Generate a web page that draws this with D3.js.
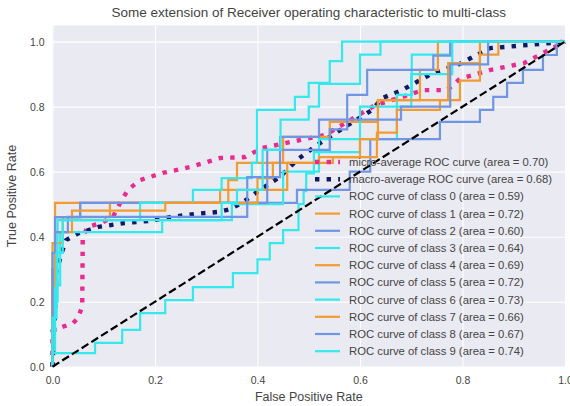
<!DOCTYPE html>
<html>
<head>
<meta charset="utf-8">
<script src="https://cdn.jsdelivr.net/npm/d3@7"></script>
<style>
    body { margin: 0; background: #fff; }
    text { font-family: "Liberation Sans", Arial, sans-serif; fill: #333; }
</style>
</head>
<body>
<div id="chart"></div>
<script>
// ROC points, [false positive rate, true positive rate]
const microRoc = [[0,0],[0,0.11],[0.015,0.12],[0.04,0.134],[0.05,0.15],[0.058,0.186],[0.059,0.40],[0.069,0.43],
    [0.095,0.442],[0.118,0.461],[0.132,0.504],[0.147,0.544],[0.171,0.574],[0.215,0.596],[0.268,0.614],
    [0.327,0.642],[0.376,0.645],[0.409,0.673],[0.464,0.691],[0.532,0.713],[0.575,0.753],[0.63,0.805],
    [0.675,0.826],[0.723,0.851],[0.77,0.851],[0.795,0.886],[0.855,0.913],[0.92,0.934],[1,1]];
const macroRoc = [[0,0],[0.007,0.25],[0.007,0.29],[0.02,0.36],[0.027,0.39],[0.05,0.41],[0.09,0.43],[0.14,0.442],
    [0.186,0.448],[0.233,0.461],[0.278,0.47],[0.323,0.476],[0.347,0.485],[0.37,0.504],[0.405,0.544],
    [0.444,0.584],[0.477,0.636],[0.516,0.682],[0.567,0.734],[0.624,0.79],[0.643,0.826],[0.682,0.851],
    [0.743,0.904],[0.79,0.928],[0.854,0.98],[0.952,0.993],[1,1]];

const roc0 = [[0,0],[0,0.042],[0.083,0.042],[0.083,0.073],[0.136,0.073],[0.136,0.113],[0.171,0.113],[0.171,0.165],
    [0.22,0.165],[0.22,0.205],[0.274,0.205],[0.274,0.245],[0.352,0.245],[0.352,0.288],[0.40,0.288],[0.40,0.33],
    [0.424,0.33],[0.424,0.38],[0.45,0.38],[0.45,0.42],[0.48,0.42],[0.48,0.50],[0.49,0.50],[0.49,0.54],
    [0.495,0.54],[0.495,0.595],[0.51,0.595],[0.51,0.66],[0.60,0.66],[0.60,0.70],[0.672,0.70],[0.672,0.836],
    [0.701,0.836],[0.701,0.96],[0.776,0.96],[0.776,1],[1,1]];
const roc1 = [[0,0],[0,0.3],[0.005,0.3],[0.005,0.504],[0.343,0.504],[0.343,0.574],[0.36,0.574],[0.36,0.627],
    [0.45,0.627],[0.45,0.707],[0.541,0.707],[0.541,0.753],[0.635,0.753],[0.635,0.82],[0.717,0.82],
    [0.717,0.913],[0.752,0.913],[0.752,1],[1,1]];
const roc2 = [[0,0],[0,0.3],[0.005,0.3],[0.005,0.46],[0.054,0.46],[0.054,0.504],[0.477,0.504],[0.477,0.544],
    [0.58,0.544],[0.58,0.60],[0.62,0.60],[0.62,0.70],[0.756,0.70],[0.756,0.753],[0.834,0.753],[0.834,0.79],
    [0.86,0.79],[0.86,0.83],[0.887,0.83],[0.887,0.873],[0.918,0.873],[0.918,0.913],[0.957,0.913],
    [0.957,0.959],[0.984,0.959],[0.984,1],[1,1]];
const roc3 = [[0,0],[0,0.05],[0.005,0.05],[0.005,0.25],[0.015,0.25],[0.015,0.414],[0.214,0.414],[0.214,0.451],
    [0.35,0.451],[0.35,0.5],[0.45,0.5],[0.45,0.6],[0.52,0.6],[0.52,0.7],[0.6,0.7],[0.6,0.8],[0.7,0.8],
    [0.7,0.9],[0.78,0.9],[0.78,1],[1,1]];
const roc4 = [[0,0],[0,0.38],[0.02,0.38],[0.02,0.46],[0.112,0.46],[0.112,0.504],[0.327,0.504],[0.327,0.544],
    [0.458,0.544],[0.458,0.627],[0.547,0.627],[0.547,0.645],[0.6,0.645],[0.6,0.70],[0.635,0.70],[0.635,0.82],
    [0.772,0.82],[0.772,0.934],[0.834,0.934],[0.834,1],[1,1]];
const roc5 = [[0,0],[0,0.3],[0.005,0.3],[0.005,0.46],[0.054,0.46],[0.054,0.504],[0.419,0.504],[0.419,0.667],
    [0.541,0.667],[0.541,0.73],[0.575,0.73],[0.575,0.836],[0.614,0.836],[0.614,0.913],[0.743,0.913],
    [0.743,0.957],[0.776,0.957],[0.776,1],[1,1]];
const roc6 = [[0,0],[0,0.2],[0.01,0.2],[0.01,0.451],[0.171,0.451],[0.171,0.504],[0.274,0.504],[0.274,0.544],
    [0.33,0.544],[0.33,0.58],[0.389,0.58],[0.389,0.627],[0.399,0.627],[0.399,0.79],[0.473,0.79],[0.473,0.83],
    [0.5,0.83],[0.5,0.873],[0.541,0.873],[0.541,0.94],[0.565,0.94],[0.565,1],[1,1]];
const roc7 = [[0,0],[0,0.25],[0.005,0.25],[0.005,0.414],[0.038,0.414],[0.038,0.48],[0.22,0.48],[0.22,0.504],
    [0.40,0.504],[0.40,0.58],[0.43,0.58],[0.43,0.627],[0.52,0.627],[0.52,0.645],[0.633,0.645],[0.633,0.72],
    [0.672,0.72],[0.672,0.79],[0.756,0.79],[0.756,0.82],[0.795,0.82],[0.795,0.88],[0.834,0.88],
    [0.834,0.96],[0.87,0.96],[0.87,1],[1,1]];
const roc8 = [[0,0],[0,0.35],[0.005,0.35],[0.005,0.414],[0.03,0.414],[0.03,0.461],[0.38,0.461],[0.38,0.583],
    [0.444,0.583],[0.444,0.707],[0.52,0.707],[0.52,0.76],[0.68,0.76],[0.68,0.80],[0.776,0.80],[0.776,0.93],
    [0.85,0.93],[0.85,1],[1,1]];
const roc9 = [[0,0],[0,0.15],[0.008,0.15],[0.008,0.35],[0.02,0.35],[0.02,0.451],[0.33,0.451],[0.33,0.504],
    [0.36,0.504],[0.36,0.544],[0.41,0.544],[0.41,0.667],[0.445,0.667],[0.445,0.76],[0.5,0.76],[0.5,0.80],
    [0.52,0.80],[0.52,0.87],[0.6,0.87],[0.6,0.96],[0.64,0.96],[0.64,1],[1,1]];

const classRocs = [roc0, roc1, roc2, roc3, roc4, roc5, roc6, roc7, roc8, roc9];
const classAreas = [0.59, 0.72, 0.60, 0.64, 0.69, 0.72, 0.73, 0.66, 0.67, 0.74];
const microArea = 0.70;
const macroArea = 0.68;
const tickValues = [0, 0.2, 0.4, 0.6, 0.8, 1.0];

// styles
const cycleColors = ["#33e9ee", "#f29b30", "#7095e4"];
const microColor = "#ea2b8d";
const macroColor = "#101868";

const W = 570, H = 406;
const margin = {top: 25.4, right: 5, bottom: 39.3, left: 52.5};
const width = W - margin.left - margin.right,
    height = H - margin.top - margin.bottom;

let svg = d3.select("#chart")
    .append("svg")
    .attr("width", W)
    .attr("height", H)
    .append("g")
    .attr("transform", "translate(" + margin.left + "," + margin.top + ")");

let xScale = d3.scaleLinear().domain([0, 1]).range([0, width]);
let yScale = d3.scaleLinear().domain([0, 1.05]).range([height, 0]);

svg.append("rect")
    .attr("width", width)
    .attr("height", height)
    .attr("fill", "#eaeaf2");

// grid
svg.append("g")
    .attr("transform", "translate(0," + height + ")")
    .call(d3.axisBottom(xScale).tickValues(tickValues).tickSize(-height).tickFormat(""))
    .call(g => g.select(".domain").remove())
    .call(g => g.selectAll("line").attr("stroke", "#fff").attr("stroke-width", 1.1));
svg.append("g")
    .call(d3.axisLeft(yScale).tickValues(tickValues).tickSize(-width).tickFormat(""))
    .call(g => g.select(".domain").remove())
    .call(g => g.selectAll("line").attr("stroke", "#fff").attr("stroke-width", 1.1));

// tick labels
svg.append("g")
    .attr("transform", "translate(0," + height + ")")
    .call(d3.axisBottom(xScale).tickValues(tickValues).tickSize(0).tickPadding(10).tickFormat(d3.format(".1f")))
    .call(g => g.select(".domain").remove())
    .call(g => g.selectAll("text").style("font-size", "10.5px").style("fill", "#444"));
svg.append("g")
    .call(d3.axisLeft(yScale).tickValues(tickValues).tickSize(0).tickPadding(8).tickFormat(d3.format(".1f")))
    .call(g => g.select(".domain").remove())
    .call(g => g.selectAll("text").style("font-size", "10.5px").style("fill", "#444"));

let line = d3.line()
    .x(d => xScale(d[0]))
    .y(d => yScale(d[1]));

svg.append("path")
    .attr("d", line(microRoc))
    .attr("fill", "none")
    .attr("stroke", microColor)
    .attr("stroke-width", 4.4)
    .style("stroke-dasharray", "4.4,7.2");

svg.append("path")
    .attr("d", line(macroRoc))
    .attr("fill", "none")
    .attr("stroke", macroColor)
    .attr("stroke-width", 4.4)
    .style("stroke-dasharray", "4.4,7.2");

classRocs.forEach((pts, i) => {
    svg.append("path")
        .attr("d", line(pts))
        .attr("fill", "none")
        .attr("stroke", cycleColors[i % 3])
        .attr("stroke-width", 2.2);
});

svg.append("path")
    .attr("d", line([[0, 0], [1, 1]]))
    .attr("fill", "none")
    .attr("stroke", "#000")
    .attr("stroke-width", 2.2)
    .style("stroke-dasharray", "8,3.5");

// legend
let legendItems = [
    {label: "micro-average ROC curve (area = " + microArea.toFixed(2) + ")", color: microColor, dotted: true},
    {label: "macro-average ROC curve (area = " + macroArea.toFixed(2) + ")", color: macroColor, dotted: true}
];
classAreas.forEach((a, i) => {
    legendItems.push({label: "ROC curve of class " + i + " (area = " + a.toFixed(2) + ")",
        color: cycleColors[i % 3], dotted: false});
});

let legend = svg.append("g")
    .attr("transform", "translate(" + (315 - margin.left) + "," + (162 - margin.top) + ")");

legendItems.forEach((item, i) => {
    let row = legend.append("g").attr("transform", "translate(0," + (i * 17.2) + ")");
    row.append("line")
        .attr("x1", 0).attr("x2", 25)
        .attr("y1", 0).attr("y2", 0)
        .attr("stroke", item.color)
        .attr("stroke-width", item.dotted ? 4.4 : 2.2)
        .style("stroke-dasharray", item.dotted ? "4.4,7.2" : null);
    row.append("text")
        .attr("x", 34)
        .attr("y", 0)
        .attr("dy", "0.35em")
        .style("font-size", "11.3px")
        .style("fill", "#444")
        .text(item.label);
});

// titles
svg.append("text")
    .attr("x", width / 2)
    .attr("y", -8)
    .attr("text-anchor", "middle")
    .style("font-size", "13.5px")
    .style("fill", "#444")
    .text("Some extension of Receiver operating characteristic to multi-class");

svg.append("text")
    .attr("x", width / 2)
    .attr("y", height + 34)
    .attr("text-anchor", "middle")
    .style("font-size", "12.5px")
    .style("fill", "#444")
    .text("False Positive Rate");

svg.append("text")
    .attr("transform", "translate(" + (-37) + "," + (height / 2) + ") rotate(-90)")
    .attr("text-anchor", "middle")
    .style("font-size", "12.5px")
    .style("fill", "#444")
    .text("True Positive Rate");
</script>
</body>
</html>
